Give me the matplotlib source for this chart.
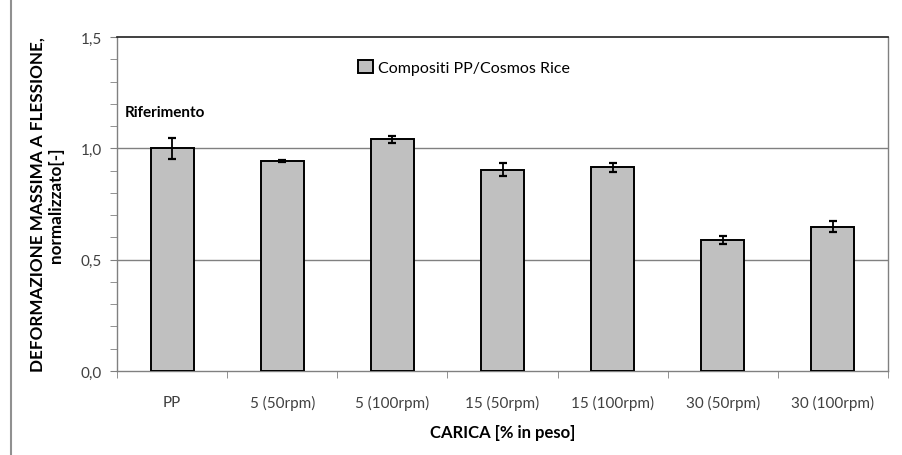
import matplotlib
matplotlib.use("Agg")
import matplotlib.pyplot as plt
from matplotlib.lines import Line2D
from matplotlib.ticker import MultipleLocator, FixedLocator

plt.rcParams["font.family"] = ["Lato", "DejaVu Sans"]

# Maximum flexural strain, normalised to neat PP
categories = ["PP", "5 (50rpm)", "5 (100rpm)", "15 (50rpm)", "15 (100rpm)",
              "30 (50rpm)", "30 (100rpm)"]
values = [1.000, 0.942, 1.040, 0.904, 0.915, 0.588, 0.648]
errors = [0.047, 0.004, 0.015, 0.029, 0.021, 0.017, 0.025]
series_label = "Compositi PP/Cosmos Rice"

fig = plt.figure(figsize=(9.03, 4.56), dpi=100)
ax = fig.add_axes([0.1296, 0.1842, 0.8538, 0.7325])

x = list(range(len(categories)))
ax.bar(x, values, width=0.39, color="#c0c0c0", edgecolor="black",
       linewidth=1.4, label=series_label, zorder=3)
ax.errorbar(x, values, yerr=errors, fmt="none", ecolor="black",
            elinewidth=1.3, capsize=3, capthick=1.6, zorder=4)

ax.set_xlim(-0.5, len(categories) - 0.5)
ax.set_ylim(0, 1.5)

# Horizontal gridlines at the labelled values
for g in [0.5, 1.0]:
    ax.axhline(g, color="#808080", linewidth=1.0, zorder=1)

ax.yaxis.set_major_locator(FixedLocator([0.0, 0.5, 1.0, 1.5]))
ax.yaxis.set_minor_locator(MultipleLocator(0.1))
ax.set_yticklabels(["0,0", "0,5", "1,0", "1,5"])
ax.tick_params(axis="y", which="both", direction="out", length=5,
               color="#808080", labelsize=11, labelcolor="#404040", pad=6)

ax.set_xticks(x)
ax.set_xticklabels(categories)
ax.xaxis.set_minor_locator(FixedLocator([i - 0.5 for i in range(len(categories) + 1)]))
ax.tick_params(axis="x", which="major", length=0, labelsize=11,
               labelcolor="#404040", pad=17)
ax.tick_params(axis="x", which="minor", direction="out", length=5, color="#808080")

for side in ["left", "bottom", "right"]:
    ax.spines[side].set_color("#808080")
    ax.spines[side].set_linewidth(1.0)
ax.spines["top"].set_color("#202020")
ax.spines["top"].set_linewidth(1.2)

ax.set_ylabel("DEFORMAZIONE MASSIMA A FLESSIONE,\nnormalizzato[-]",
              fontsize=12.3, fontweight="bold", labelpad=12, linespacing=1.15,
              multialignment="center")
ax.set_xlabel("CARICA [% in peso]", fontsize=12, fontweight="bold", labelpad=10)

ax.text(-0.43, 1.163, "Riferimento", fontsize=11, fontweight="bold",
        ha="left", va="center")

ax.legend(loc="upper center", bbox_to_anchor=(0.45, 0.975), frameon=False,
          fontsize=11.5, handlelength=0.9, handleheight=0.9, handletextpad=0.3)

# Thin page border on the far left
fig.add_artist(Line2D([0.012, 0.012], [0.0, 1.0], transform=fig.transFigure,
                      color="#909090", linewidth=1.5))

fig.savefig("out.png", dpi=100)
